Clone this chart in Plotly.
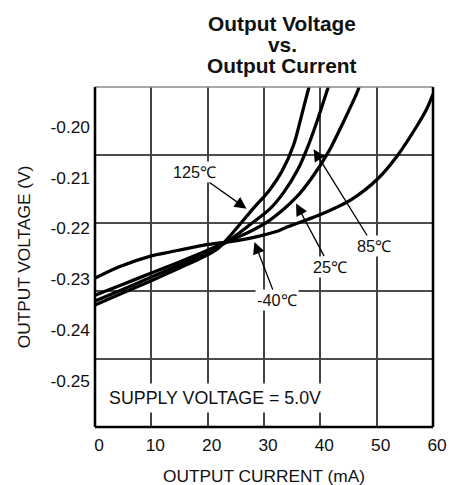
import plotly.graph_objects as go

# ---- data ----
cur_m40 = [0, 4.2, 10, 13.1, 19.9, 24, 28, 32.2, 33.9, 39.7, 45.5, 50.2, 53.7, 57.2, 58.9, 60]
v_m40 = [-0.2298, -0.2276, -0.2254, -0.2247, -0.2232, -0.2226, -0.2218, -0.2206, -0.2198,
         -0.2174, -0.2143, -0.2102, -0.2056, -0.1997, -0.1964, -0.1935]

cur_25 = [0, 5, 10, 15, 20, 22, 24.5, 27, 31, 35.7, 38.5, 41.5, 44.4, 46.7, 47.0]
v_25 = [-0.2332, -0.2310, -0.2288, -0.2266, -0.2243, -0.2233, -0.2221, -0.2209, -0.2184,
        -0.2139, -0.2100, -0.2048, -0.1983, -0.1927, -0.1915]

cur_85 = [0, 5, 10, 15, 20, 22, 24.5, 27, 31, 33.5, 36, 37.8, 39.5, 41.3, 41.6]
v_85 = [-0.2343, -0.2320, -0.2296, -0.2272, -0.2248, -0.2236, -0.2218, -0.2197, -0.2162,
        -0.2129, -0.2084, -0.2038, -0.1986, -0.1925, -0.1915]

cur_125 = [0, 5, 10, 15, 20, 22, 24.5, 28, 31, 33.2, 35.3, 36.7, 38, 38.2]
v_125 = [-0.2351, -0.2327, -0.2303, -0.2278, -0.2252, -0.2238, -0.2208, -0.2162, -0.2124,
         -0.2087, -0.2034, -0.1976, -0.1921, -0.1915]

x_ticks = [0, 10, 20, 30, 40, 50, 60]
y_ticks = [-0.20, -0.21, -0.22, -0.23, -0.24, -0.25]
y_tick_text = ["-0.20", "-0.21", "-0.22", "-0.23", "-0.24", "-0.25"]

title_lines = ["Output Voltage", "vs.", "Output Current"]

# label name, arrow head (current, voltage), text offset in px
labels = ["125℃", "85℃", "25℃", "-40℃"]
label_x = [26.9, 38.8, 35.7, 28.3]
label_y = [-0.2161, -0.2044, -0.2151, -0.2227]
label_ax = [-51, 59, 33, 22]
label_ay = [-36, 95, 62, 57]

FONT = "Liberation Sans, Arial, sans-serif"
K = 459 / 451  # the page photo is scaled down by about this factor


def s(v):
    return v * K


fig = go.Figure()
for xs, ys, name in [(cur_m40, v_m40, "-40℃"), (cur_25, v_25, "25℃"),
                     (cur_85, v_85, "85℃"), (cur_125, v_125, "125℃")]:
    fig.add_trace(go.Scatter(x=xs, y=ys, mode="lines", name=name,
                             line=dict(color="black", width=s(3.2), shape="spline", smoothing=0.8),
                             showlegend=False, hoverinfo="skip"))

# horizontal grid: 5 equal rows
for k in range(1, 5):
    fig.add_shape(type="line", xref="paper", yref="paper", x0=0, x1=1, y0=k / 5, y1=k / 5,
                  line=dict(color="#111111", width=s(1.5)), layer="below")
# frame
fig.add_shape(type="line", xref="paper", yref="paper", x0=0, x1=1, y0=1, y1=1,
              line=dict(color="#8a8a8a", width=s(1.5)), layer="above")
for x0, y0, x1, y1 in [(0, 0, 0, 1), (1, 0, 1, 1), (0, 0, 1, 0)]:
    fig.add_shape(type="line", xref="paper", yref="paper", x0=x0, x1=x1, y0=y0, y1=y1,
                  line=dict(color="black", width=s(2.5)), layer="above")

for t, x, y, ax, ay in zip(labels, label_x, label_y, label_ax, label_ay):
    fig.add_annotation(x=x, y=y, text=t, showarrow=True, ax=s(ax), ay=s(ay),
                       arrowhead=2, arrowsize=1.8, arrowwidth=s(1.3), arrowcolor="black",
                       font=dict(family=FONT, size=s(16), color="#111"),
                       bgcolor="white", borderpad=1, standoff=0)

fig.add_annotation(x=1.6, y=-0.2535, text="SUPPLY VOLTAGE = 5.0V", showarrow=False,
                   xanchor="left", yanchor="middle",
                   font=dict(family=FONT, size=s(17.5), color="#111"),
                   bgcolor="white", borderpad=s(4))

# title block (three centred bold lines above the plot)
plot_top, plot_h, plot_w = 85, 343.5, 343
for line, py in zip(title_lines, [21, 42, 63]):
    fig.add_annotation(xref="paper", yref="paper", x=(283 - 93) / plot_w,
                       y=1 + (plot_top - py) / plot_h, text="<b>" + line + "</b>",
                       showarrow=False, xanchor="center", yanchor="middle",
                       font=dict(family=FONT, size=s(20.5), color="#111"))

fig.update_layout(
    width=round(s(451)), height=round(s(485)), autosize=False,
    margin=dict(l=s(93), r=s(15), t=s(85), b=s(56.5)),
    paper_bgcolor="white", plot_bgcolor="white",
    font=dict(family=FONT, size=s(17), color="#111"),
    xaxis=dict(range=[0, 60], tickvals=x_ticks, showgrid=True, gridcolor="#444444",
               gridwidth=s(1.5), zeroline=False, showline=False, ticks="",
               ticklabelshift=4, ticklabelstandoff=6,
               title=dict(text="OUTPUT CURRENT (mA)", font=dict(size=s(17)))),
    yaxis=dict(range=[-0.25916, -0.19211], tickvals=y_ticks, ticktext=y_tick_text,
               showgrid=False, zeroline=False, showline=False, ticks="",
               ticklabelstandoff=4,
               title=dict(text="OUTPUT VOLTAGE (V)", font=dict(size=s(17)))),
)

fig.write_html("out.html",
               config={"responsive": False, "displayModeBar": False},
               post_script="document.body.style.margin='0';")
